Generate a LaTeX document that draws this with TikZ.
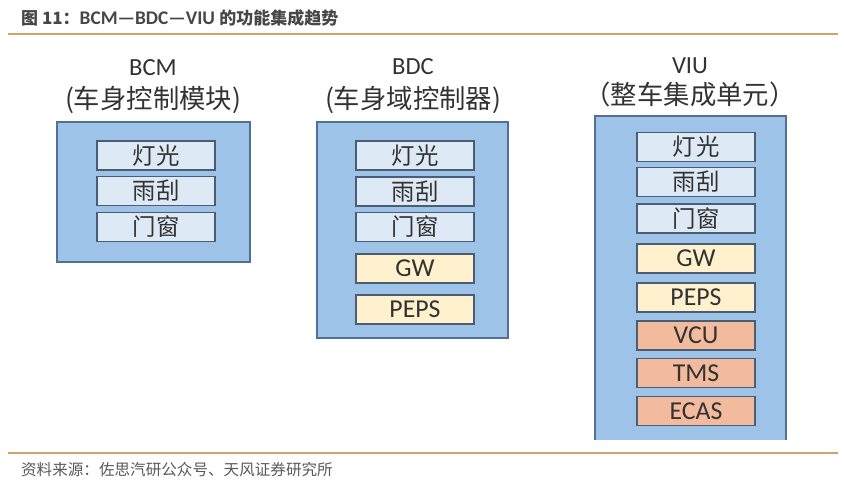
\documentclass[tikz,border=0pt]{standalone}
\usepackage{fontspec}
\setmainfont{Carlito}
\newfontfamily\cjk{Noto Sans CJK SC}
\usetikzlibrary{calc}
\definecolor{goud}{RGB}{203,166,104}
\definecolor{blauw}{RGB}{157,195,232}
\definecolor{rand}{RGB}{80,112,150}
\definecolor{vakrand}{RGB}{75,92,115}
\definecolor{lichtblauw}{RGB}{222,233,246}
\definecolor{geel}{RGB}{255,241,205}
\definecolor{oranje}{RGB}{243,187,158}
\definecolor{tekst}{RGB}{50,50,50}
\definecolor{grijs}{RGB}{89,89,89}
\tikzset{
    x=0.3mm, y=-0.3mm,
    kader/.style={fill=blauw, draw=rand, line width=1.4pt},
    vakje/.style={draw=vakrand, line width=1.6pt, minimum width=35.4mm, minimum height=8.7mm,
        inner sep=0pt, text=tekst, font=\fontsize{20}{22}\selectfont},
    naam/.style={text=tekst, font=\fontsize{21}{24}\selectfont},
    goudlijn/.style={draw=goud, line width=1.6pt}
}
\NewDocumentCommand{\vak}{O{lichtblauw} m m m m}{ % kleur, naam, x, y, tekst
    \node[vakje, fill=#1] (#2) at (#3,#4) {#5};
}
\newcommand{\lat}[1]{{\fontsize{22}{24}\selectfont #1}}

\begin{document}
\begin{tikzpicture}
    \useasboundingbox (0,0) rectangle (844,486);
    % kop en voet
    \node[anchor=west, text=grijs!80!black, font=\fontsize{14.5}{16}\selectfont\bfseries] (titel) at (17,18)
        {\cjk 图 11：\rmfamily\fontsize{16.5}{18}\selectfont BCM—BDC—VIU \cjk\fontsize{14.5}{16}\selectfont 的功能集成趋势};
    \draw[goudlijn] (8,34) -- (838,34);
    \draw[goudlijn] (8,453) -- (838,453);
    \node[anchor=west, text=grijs, font=\fontsize{13.3}{16}\selectfont] (bron) at (17,470)
        {\cjk 资料来源：佐思汽研公众号、天风证券研究所};
    % BCM
    \node[naam] (bcm) at (153,68) {BCM};
    \node[naam, font=\fontsize{22.5}{24}\selectfont] (bcmsub) at (153,100) {\cjk (车身控制模块)};
    \draw[kader] (57,122) rectangle (250,262);
    \vak{bcm1}{156}{155.5}{\cjk 灯光}
    \vak{bcm2}{156}{191}{\cjk 雨刮}
    \vak{bcm3}{156}{227}{\cjk 门窗}
    % BDC
    \node[naam] (bdc) at (413,67) {BDC};
    \node[naam, font=\fontsize{22.5}{24}\selectfont] (bdcsub) at (413,100) {\cjk (车身域控制器)};
    \draw[kader] (317,122) rectangle (508,338);
    \vak{bdc1}{415}{155.5}{\cjk 灯光}
    \vak{bdc2}{415}{191.5}{\cjk 雨刮}
    \vak{bdc3}{415}{227}{\cjk 门窗}
    \vak[geel]{bdc4}{415}{268.5}{\lat{GW}}
    \vak[geel]{bdc5}{415}{309.5}{\lat{PEPS}}
    % VIU
    \node[naam] (viu) at (690,66) {VIU};
    \node[naam, font=\fontsize{22.5}{24}\selectfont] (viusub) at (690,94) {\cjk （整车集成单元）};
    \fill[blauw] (595,116) rectangle (786,440);
    \draw[kader, fill=none] (595,440) -- (595,116) -- (786,116) -- (786,440);
    \vak{viu1}{696}{147}{\cjk 灯光}
    \vak{viu2}{696}{182}{\cjk 雨刮}
    \vak{viu3}{696}{218.5}{\cjk 门窗}
    \vak[geel]{viu4}{696}{258.5}{\lat{GW}}
    \vak[geel]{viu5}{696}{297.5}{\lat{PEPS}}
    \vak[oranje]{viu6}{696}{335.5}{\lat{VCU}}
    \vak[oranje]{viu7}{696}{373}{\lat{TMS}}
    \vak[oranje]{viu8}{696}{411}{\lat{ECAS}}
\end{tikzpicture}
\end{document}
